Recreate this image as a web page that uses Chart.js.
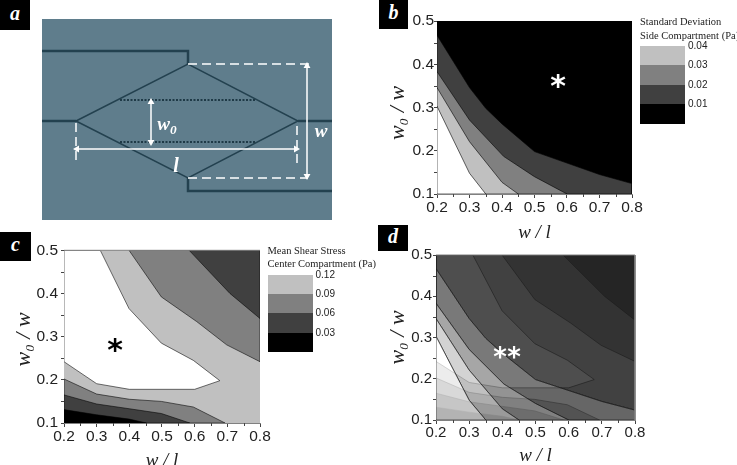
<!DOCTYPE html>
<html>
<head>
<meta charset="utf-8">
<script src="https://cdn.jsdelivr.net/npm/chart.js@4/dist/chart.umd.min.js"></script>
<style>
  html, body { margin: 0; padding: 0; background: #fff; }
  #page { position: absolute; left: 0; top: 0; width: 737px; height: 465px; overflow: hidden; }
  canvas { position: absolute; }
  .txt { position: absolute; white-space: nowrap; line-height: 1; }
  .tag { position: absolute; background: #000; color: #fff; text-align: center;
         font: italic bold 20px "Liberation Serif"; }
  .serif { font-family: "Liberation Serif"; }
  .sans { font-family: "Liberation Sans"; }
  sub { font-size: 70%; line-height: 0; }
</style>
</head>
<body>
<div id="page"></div>
<script>
// tick labels
const xTicks = [0.2, 0.3, 0.4, 0.5, 0.6, 0.7, 0.8];
const yTicks = [0.1, 0.2, 0.3, 0.4, 0.5];
const xMinor = [0.25, 0.35, 0.45, 0.55, 0.65, 0.75];
const yMinor = [0.15, 0.25, 0.35, 0.45];

// panel b contour lines, [w/l, w0/w]
const sd01 = [[0.2, 0.467], [0.3, 0.346], [0.35, 0.298], [0.4, 0.262], [0.5, 0.198], [0.7, 0.145], [0.8, 0.124]];
const sd02 = [[0.2, 0.383], [0.3, 0.271], [0.405, 0.187], [0.5, 0.14], [0.6, 0.1]];
const sd03 = [[0.2, 0.346], [0.3, 0.221], [0.4, 0.127], [0.45, 0.1]];
const sd04 = [[0.2, 0.303], [0.3, 0.148], [0.35, 0.1]];

// panel c contour lines
const mean12 = [[0.2, 0.5], [0.311, 0.5], [0.399, 0.365], [0.498, 0.285], [0.596, 0.245], [0.677, 0.198],
                [0.6, 0.178], [0.4, 0.178], [0.3, 0.191], [0.2, 0.242]];
const mean09top = [[0.399, 0.5], [0.498, 0.392], [0.606, 0.335], [0.698, 0.281], [0.8, 0.242], [0.8, 0.5]];
const mean06top = [[0.583, 0.5], [0.708, 0.4], [0.8, 0.342], [0.8, 0.5]];
const mean09low = [[0.2, 0.202], [0.3, 0.167], [0.4, 0.155], [0.498, 0.15], [0.596, 0.137], [0.693, 0.1], [0.2, 0.1]];
const mean06low = [[0.2, 0.165], [0.3, 0.144], [0.4, 0.133], [0.498, 0.122], [0.585, 0.1], [0.2, 0.1]];
const mean03low = [[0.2, 0.131], [0.3, 0.119], [0.4, 0.109], [0.452, 0.1], [0.2, 0.1]];

// legends
const sdLabels = ["0.04", "0.03", "0.02", "0.01"];
const meanLabels = ["0.12", "0.09", "0.06", "0.03"];
const greys = ["#c0c0c0", "#808080", "#404040", "#000000"];

// panel a schematic lines, in picture units of the panel
const channelTop = [[0, 32], [146, 32], [146, 45]];
const channelLeft = [[0, 102], [34, 102]];
const channelRight = [[256, 102], [290, 102]];
const channelLow = [[146, 159], [146, 172], [290, 172]];
const diamond = [[34, 102], [146, 45], [256, 102], [146, 159], [34, 102]];
const dottedUp = [[78, 81], [214, 81]];
const dottedLow = [[78, 123], [214, 123]];
const dashTop = [[146, 45], [270, 45]];
const dashLow = [[146, 159], [266, 159]];
const dashLeft = [[34, 104], [34, 145]];
const dashRight = [[255, 107], [255, 145]];
const arrowW = [[265, 47], [265, 157]];
const arrowW0 = [[109, 83], [109, 123]];
const arrowL = [[35, 130], [254, 130]];

Chart.defaults.animation = false;
Chart.defaults.responsive = false;
Chart.defaults.font.family = '"Liberation Sans"';
Chart.defaults.plugins.legend.display = false;
Chart.defaults.plugins.tooltip.enabled = false;

const page = document.getElementById("page");

function pts(list) {
  return list.map(p => ({ x: p[0], y: p[1] }));
}

function poly(list, color, line) {
  const closed = list.concat([list[0]]);
  return {
    data: pts(closed), showLine: true, fill: "shape", backgroundColor: color,
    borderColor: line || "transparent", borderWidth: line ? 0.8 : 0,
    pointRadius: 0, tension: 0
  };
}

function text(html, x, y, cls, css) {
  const el = document.createElement("div");
  el.className = "txt " + cls;
  el.innerHTML = html;
  el.style.cssText = "left:" + x + "px;top:" + y + "px;transform:translate(-50%,-50%);" + css;
  page.appendChild(el);
}

function tag(letter, x, y, w, h) {
  const el = document.createElement("div");
  el.className = "tag";
  el.textContent = letter;
  el.style.cssText = "left:" + x + "px;top:" + y + "px;width:" + w + "px;height:" + h + "px;line-height:" + (h - 4) + "px;";
  page.appendChild(el);
}

function legend(x, y, title, labels) {
  title.forEach((t, i) => {
    const el = document.createElement("div");
    el.className = "txt serif";
    el.textContent = t;
    el.style.cssText = "left:" + x + "px;top:" + (y - 29 + i * 13.5) + "px;font-size:10.5px;color:#222;";
    page.appendChild(el);
  });
  greys.forEach((c, i) => {
    const box = document.createElement("div");
    box.style.cssText = "position:absolute;left:" + x + "px;top:" + (y + i * 19.4) + "px;width:45px;height:19.4px;background:" + c;
    page.appendChild(box);
    const el = document.createElement("div");
    el.className = "txt sans";
    el.textContent = labels[i];
    el.style.cssText = "left:" + (x + 48) + "px;top:" + (y - 5 + i * 19.4) + "px;font-size:10px;color:#222;";
    page.appendChild(el);
  });
}

// short ticks between the labelled ones
const minorTicks = {
  id: "minorTicks",
  afterDraw(chart) {
    const ctx = chart.ctx, xs = chart.scales.x, ys = chart.scales.y;
    ctx.save();
    ctx.strokeStyle = "#444";
    ctx.lineWidth = 1;
    ctx.beginPath();
    xMinor.forEach(v => {
      const px = Math.round(xs.getPixelForValue(v)) + 0.5;
      ctx.moveTo(px, xs.top);
      ctx.lineTo(px, xs.top + 3);
    });
    yMinor.forEach(v => {
      const py = Math.round(ys.getPixelForValue(v)) + 0.5;
      ctx.moveTo(ys.right, py);
      ctx.lineTo(ys.right - 3, py);
    });
    ctx.stroke();
    ctx.restore();
  }
};

function contourChart(plot, layers, opt) {
  const canvas = document.createElement("canvas");
  const left = opt.titleLeft, top = plot.y - 12;
  canvas.width = plot.x + plot.w + 16 - left;
  canvas.height = plot.h + 12 + opt.below;
  canvas.style.left = left + "px";
  canvas.style.top = top + "px";
  page.appendChild(canvas);
  new Chart(canvas, {
    type: "scatter",
    // first dataset is painted last, so flip the bottom-up list
    data: { datasets: layers.slice().reverse() },
    options: {
      layout: { padding: { top: 12, right: 16, left: 0, bottom: 0 } },
      scales: {
        x: {
          type: "linear", min: 0.2, max: 0.8, z: 1,
          afterBuildTicks: s => { s.ticks = xTicks.map(v => ({ value: v })); },
          afterFit: s => { s.height = opt.below; },
          border: { color: "#808080", width: 1 },
          grid: { drawOnChartArea: false, tickColor: "#444", tickLength: 4 },
          ticks: { font: { size: opt.tickSize }, color: "#222", maxRotation: 0, autoSkip: false, padding: 0,
                   callback: v => v.toFixed(1) },
          title: { display: true, text: "w / l", color: "#222", padding: 0,
                   font: { family: "Liberation Serif", style: "italic", size: 19 } }
        },
        y: {
          type: "linear", min: 0.1, max: 0.5, z: 1,
          afterBuildTicks: s => { s.ticks = yTicks.map(v => ({ value: v })); },
          afterFit: s => { s.width = plot.x - left; },
          border: { color: "#808080", width: 1 },
          grid: { drawOnChartArea: false, tickColor: "#444", tickLength: 3 },
          ticks: { font: { size: opt.tickSize }, color: "#222", autoSkip: false, padding: opt.yPad,
                   callback: v => v.toFixed(1) },
          // trailing spaces push the rotated title down the axis
          title: { display: true, text: "w\u2080 / w" + opt.ySpace, color: "#222", padding: 0,
                   font: { family: "Liberation Serif", style: "italic", size: 22 } }
        }
      }
    },
    plugins: [minorTicks]
  });
}

// panel a
function schematicLine(list, color, width, dash) {
  return { data: pts(list), showLine: true, borderColor: color, borderWidth: width,
           borderDash: dash || [], pointRadius: 0, tension: 0 };
}
function arrow(list, rotStart, rotEnd) {
  return { data: pts(list), showLine: true, borderColor: "#fff", borderWidth: 1.5, pointStyle: "triangle",
           pointRadius: 4, pointBackgroundColor: "#fff", pointBorderColor: "#fff", pointBorderWidth: 0,
           pointRotation: [rotStart, rotEnd], tension: 0 };
}
const panelA = document.createElement("canvas");
panelA.width = 290;
panelA.height = 201;
panelA.style.cssText = "left:42px;top:19px;background:#5f7d8c;";
page.appendChild(panelA);
new Chart(panelA, {
  type: "scatter",
  data: {
    datasets: [
      arrow(arrowW, 0, 180),
      arrow(arrowW0, 0, 180),
      arrow(arrowL, 270, 90),
      schematicLine(dashTop, "#fff", 1.5, [9, 5]),
      schematicLine(dashLow, "#fff", 1.5, [9, 5]),
      schematicLine(dashLeft, "#fff", 1.5, [9, 5]),
      schematicLine(dashRight, "#fff", 1.5, [9, 5]),
      schematicLine(dottedUp, "#1f3a47", 2, [2, 1.5]),
      schematicLine(dottedLow, "#1f3a47", 2, [2, 1.5]),
      schematicLine(diamond, "#23414f", 1.5),
      schematicLine(channelTop, "#23414f", 2.5),
      schematicLine(channelLeft, "#23414f", 2.5),
      schematicLine(channelRight, "#23414f", 2.5),
      schematicLine(channelLow, "#23414f", 2.5)
    ]
  },
  options: {
    layout: { padding: 0, autoPadding: false },
    scales: {
      x: { type: "linear", min: 0, max: 290, display: false },
      y: { type: "linear", min: 0, max: 201, reverse: true, display: false }
    }
  }
});

const corner = [0.2, 0.1];
const sdLine = "rgba(0,0,0,0.75)";

// panel b
contourChart({ x: 437, y: 21, w: 195, h: 173 }, [
  poly([[0.2, 0.1], [0.8, 0.1], [0.8, 0.5], [0.2, 0.5]], "#000000"),
  poly(sd01.concat([[0.8, 0.1], corner]), "#404040", sdLine),
  poly(sd02.concat([corner]), "#808080", sdLine),
  poly(sd03.concat([corner]), "#c0c0c0", sdLine),
  poly(sd04.concat([corner]), "#ffffff", sdLine)
], { titleLeft: 385, below: 50, tickSize: 15.5, yPad: 0, ySpace: "\u00a0\u00a0" });

// panel c
const meanLine = "rgba(0,0,0,0.7)";
const meanLayers = [
  poly([[0.2, 0.1], [0.8, 0.1], [0.8, 0.5], [0.2, 0.5]], "#c0c0c0"),
  poly(mean12, "#ffffff", meanLine),
  poly(mean09top, "#808080", meanLine),
  poly(mean06top, "#404040", meanLine),
  poly(mean09low, "#808080", meanLine),
  poly(mean06low, "#404040", meanLine),
  poly(mean03low, "#000000", meanLine)
];
const frameTop = { data: pts([[0.2, 0.5], [0.8, 0.5]]), showLine: true, borderColor: "#808080", borderWidth: 1, pointRadius: 0, clip: false };
contourChart({ x: 64, y: 250, w: 196, h: 173 }, meanLayers.concat([frameTop]),
  { titleLeft: 11, below: 49, tickSize: 15.5, yPad: 3, ySpace: "\u00a0" });

// panel d, panel b laid over panel c
const overLine = "rgba(20,20,20,0.75)";
const frameD = { data: pts([[0.2, 0.5], [0.8, 0.5], [0.8, 0.1]]), showLine: true, borderColor: "#808080", borderWidth: 1, pointRadius: 0, clip: false };
contourChart({ x: 436, y: 255, w: 199, h: 165 }, meanLayers.concat([
  poly(sd01.concat([[0.8, 0.5], [0.2, 0.5]]), "rgba(30,30,30,0.79)", overLine),
  poly(sd02.concat([[0.8, 0.1]], sd01.slice().reverse()), "rgba(64,64,64,0.7)", overLine),
  poly(sd03.concat(sd02.slice().reverse()), "rgba(128,128,128,0.7)", overLine),
  poly(sd04.concat(sd03.slice().reverse()), "rgba(192,192,192,0.7)", overLine),
  poly(sd04.concat([corner]), "rgba(255,255,255,0.7)", overLine),
  frameD
]), { titleLeft: 385, below: 47, tickSize: 15, yPad: 1, ySpace: "" });

// letters and labels
tag("a", 0, 0, 30, 30);
tag("b", 379, 0, 29, 29);
tag("c", 0, 232, 31, 29);
tag("d", 378, 225, 30, 26);

text("w<sub>0</sub>", 167, 123, "serif", "font-size:19px;font-style:italic;font-weight:bold;color:#fff;");
text("w", 321, 130, "serif", "font-size:19px;font-style:italic;font-weight:bold;color:#fff;");
text("l", 176, 165, "serif", "font-size:20px;font-style:italic;font-weight:bold;color:#fff;");

text("*", 558, 86, "serif", "font-family:'DejaVu Sans';font-size:30px;font-weight:bold;color:#fff;");
text("*", 115, 350, "serif", "font-family:'DejaVu Sans';font-size:30px;font-weight:bold;color:#000;");
text("*", 500, 357, "serif", "font-family:'DejaVu Sans';font-size:26px;font-weight:bold;color:#fff;");
text("*", 514, 357, "serif", "font-family:'DejaVu Sans';font-size:26px;font-weight:bold;color:#fff;");

legend(640, 46, ["Standard Deviation", "Side Compartment (Pa)"], sdLabels);
legend(267.5, 274.5, ["Mean Shear Stress", "Center Compartment (Pa)"], meanLabels);
</script>
</body>
</html>
